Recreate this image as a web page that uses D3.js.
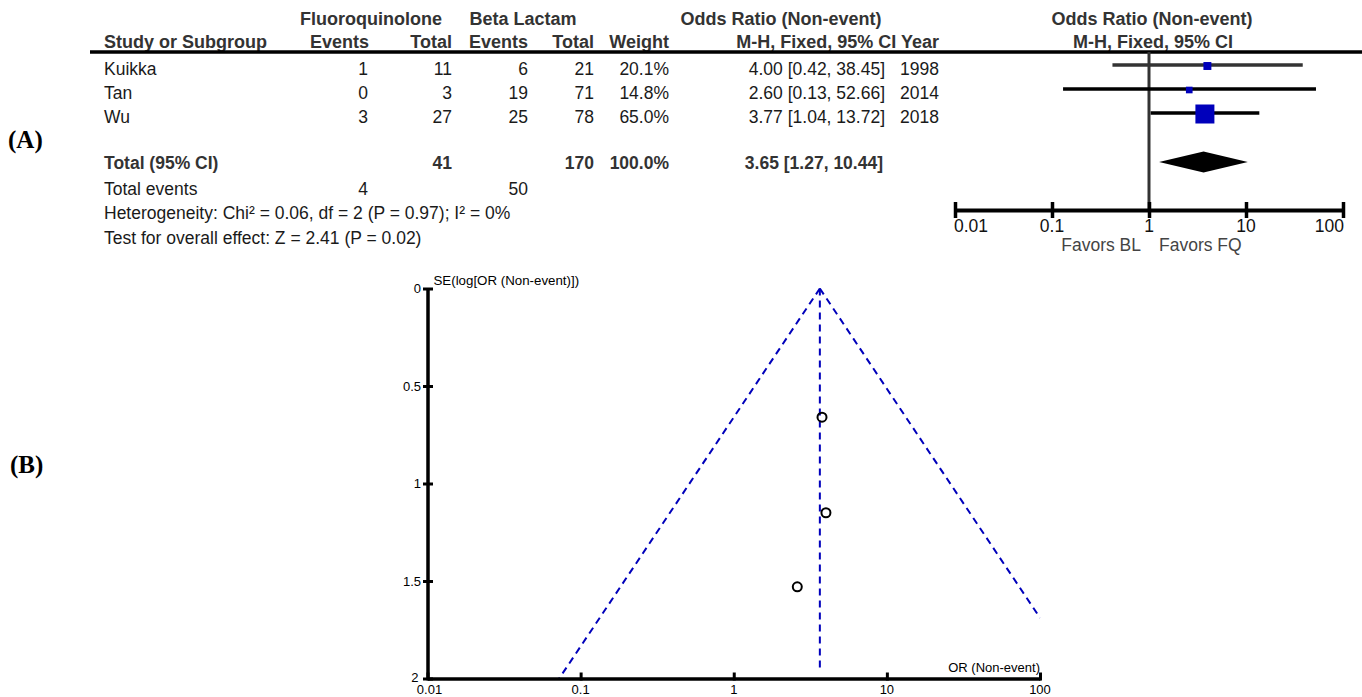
<!DOCTYPE html>
<html>
<head>
<meta charset="utf-8">
<script src="https://cdn.jsdelivr.net/npm/d3@7/dist/d3.min.js"></script>
<style>
  html, body { margin: 0; padding: 0; background: #fff; }
  svg { display: block; }
</style>
</head>
<body>
<svg id="chart" width="1362" height="697"></svg>
<script>
// ---------- DATA ----------
const studies   = ["Kuikka", "Tan", "Wu"];
const fqEvents  = [1, 0, 3];
const fqTotal   = [11, 3, 27];
const blEvents  = [6, 19, 25];
const blTotal   = [21, 71, 78];
const weights   = [20.1, 14.8, 65.0];
const orValues  = [4.00, 2.60, 3.77];
const ciLow     = [0.42, 0.13, 1.04];
const ciHigh    = [38.45, 52.66, 13.72];
const years     = [1998, 2014, 2018];
const seValues  = [1.15, 1.53, 0.66];

const totalFqTotal = 41, totalBlTotal = 170;
const totalFqEvents = 4, totalBlEvents = 50;
const pooledOR = 3.65, pooledLow = 1.27, pooledHigh = 10.44;
const totalWeight = "100.0%";
const heterogeneityText = "Heterogeneity: Chi\u00B2 = 0.06, df = 2 (P = 0.97); I\u00B2 = 0%";
const overallText = "Test for overall effect: Z = 2.41 (P = 0.02)";

const forestTicks = [0.01, 0.1, 1, 10, 100];
const forestTickLabels = ["0.01", "0.1", "1", "10", "100"];
const funnelXTicks = [0.01, 0.1, 1, 10, 100];
const funnelXTickLabels = ["0.01", "0.1", "1", "10", "100"];
const funnelYTicks = [0, 0.5, 1, 1.5, 2];
const funnelYTickLabels = ["0", "0.5", "1", "1.5", "2"];

// ---------- SETUP ----------
const svg = d3.select("#chart");
const SANS = "'Liberation Sans', Arial, sans-serif";
const SERIF = "'Liberation Serif', 'Times New Roman', serif";
const BLUE = "#0000bb";

function txt(g, x, y, s, opt = {}) {
  return g.append("text")
    .attr("x", x).attr("y", y)
    .attr("text-anchor", opt.anchor || "start")
    .attr("font-family", opt.family || SANS)
    .attr("font-size", opt.size || 17.5)
    .attr("font-weight", opt.bold ? "bold" : "normal")
    .attr("fill", opt.fill || "#1a1a1a")
    .text(s);
}

// Panel labels
txt(svg, 8, 148, "(A)", {family: SERIF, size: 25, bold: true, fill: "#000"});
txt(svg, 10, 473, "(B)", {family: SERIF, size: 25, bold: true, fill: "#000"});

// ---------- FOREST TABLE ----------
const tbl = svg.append("g");
const H = {bold: true, fill: "#333", size: 18};
txt(tbl, 371, 25, "Fluoroquinolone", {...H, anchor: "middle"});
txt(tbl, 523, 25, "Beta Lactam", {...H, anchor: "middle"});
txt(tbl, 781, 25, "Odds Ratio (Non-event)", {...H, anchor: "middle"});
txt(tbl, 1152, 25, "Odds Ratio (Non-event)", {...H, anchor: "middle"});

txt(tbl, 104, 48, "Study or Subgroup", H);
txt(tbl, 369, 48, "Events", {...H, anchor: "end"});
txt(tbl, 452, 48, "Total", {...H, anchor: "end"});
txt(tbl, 528, 48, "Events", {...H, anchor: "end"});
txt(tbl, 594, 48, "Total", {...H, anchor: "end"});
txt(tbl, 669, 48, "Weight", {...H, anchor: "end"});
txt(tbl, 939, 48, "M-H, Fixed, 95% CI Year", {...H, anchor: "end"});
txt(tbl, 1153, 48, "M-H, Fixed, 95% CI", {...H, anchor: "middle"});

tbl.append("line").attr("x1", 90).attr("x2", 1362).attr("y1", 52).attr("y2", 52)
  .attr("stroke", "#000").attr("stroke-width", 3.5);

const rowBase = d3.scalePoint().domain(studies).range([75, 123]);
const fmt2 = d3.format(".2f");

studies.forEach((s, i) => {
  const y = rowBase(s);
  txt(tbl, 104, y, s);
  txt(tbl, 368, y, fqEvents[i], {anchor: "end"});
  txt(tbl, 452, y, fqTotal[i], {anchor: "end"});
  txt(tbl, 528, y, blEvents[i], {anchor: "end"});
  txt(tbl, 594, y, blTotal[i], {anchor: "end"});
  txt(tbl, 669, y, d3.format(".1f")(weights[i]) + "%", {anchor: "end"});
  txt(tbl, 885, y, `${fmt2(orValues[i])} [${fmt2(ciLow[i])}, ${fmt2(ciHigh[i])}]`, {anchor: "end"});
  txt(tbl, 939, y, years[i], {anchor: "end"});
});

// Total row
const TB = {bold: true, fill: "#333", size: 17.5};
txt(tbl, 104, 169, "Total (95% CI)", TB);
txt(tbl, 452, 169, totalFqTotal, {...TB, anchor: "end"});
txt(tbl, 594, 169, totalBlTotal, {...TB, anchor: "end"});
txt(tbl, 669, 169, totalWeight, {...TB, anchor: "end"});
txt(tbl, 883, 169, `${fmt2(pooledOR)} [${fmt2(pooledLow)}, ${fmt2(pooledHigh)}]`, {...TB, anchor: "end"});

txt(tbl, 104, 195, "Total events");
txt(tbl, 368, 195, totalFqEvents, {anchor: "end"});
txt(tbl, 528, 195, totalBlEvents, {anchor: "end"});
txt(tbl, 104, 219, heterogeneityText);
txt(tbl, 104, 244, overallText);

// ---------- FOREST PLOT ----------
const fx = d3.scaleLog().domain([0.01, 100]).range([955, 1343]);
const sq = d3.scaleLinear().domain([0, 65]).range([3, 19]);
const fg = svg.append("g");

// line of no effect
fg.append("line").attr("x1", fx(1)).attr("x2", fx(1)).attr("y1", 52).attr("y2", 210)
  .attr("stroke", "#333").attr("stroke-width", 3);

studies.forEach((s, i) => {
  const y = rowBase(s) - 10;
  fg.append("line").attr("x1", fx(ciLow[i])).attr("x2", fx(ciHigh[i]))
    .attr("y1", y).attr("y2", y).attr("stroke", i === 0 ? "#333" : "#000").attr("stroke-width", 3.3);
  const w = sq(weights[i]);
  fg.append("rect").attr("x", fx(orValues[i]) - w / 2).attr("y", y + 1 - w / 2)
    .attr("width", w).attr("height", w).attr("fill", BLUE);
});

// diamond
const dy = 162;
fg.append("path")
  .attr("d", `M${fx(pooledLow)},${dy} L${fx(pooledOR)},${dy - 10.5} L${fx(pooledHigh)},${dy} L${fx(pooledOR)},${dy + 10.5} Z`)
  .attr("fill", "#000");

// forest axis
const fAxis = d3.axisBottom(fx).tickValues(forestTicks).tickSize(0).tickFormat("");
const fAxisG = fg.append("g").attr("transform", "translate(0,210)").call(fAxis);
fAxisG.select(".domain").attr("stroke", "#000").attr("stroke-width", 4);
fAxisG.selectAll(".tick line").remove();
fAxisG.selectAll(".tick").append("line").attr("y1", -8).attr("y2", 8)
  .attr("stroke", "#000").attr("stroke-width", 3.5);
forestTicks.forEach((t, i) => {
  const anchor = i === 0 ? "start" : (i === forestTicks.length - 1 ? "end" : "middle");
  const dx = i === 0 ? -1 : (i === forestTicks.length - 1 ? 1 : 0);
  txt(fg, fx(t) + dx, 232, forestTickLabels[i], {anchor, fill: "#111"});
});
txt(fg, fx(1) - 8, 251, "Favors BL", {anchor: "end", fill: "#444"});
txt(fg, fx(1) + 10, 251, "Favors FQ", {anchor: "start", fill: "#444"});

// ---------- FUNNEL PLOT ----------
const ux = d3.scaleLog().domain([0.01, 100]).range([427.5, 1040]);
const uy = d3.scaleLinear().domain([0, 2]).range([288.5, 678.5]);
const ug = svg.append("g");

// funnel lines
const lnP = Math.log(pooledOR);
const seMax = 2;
const seRight = (Math.log(100) - lnP) / 1.96;
const dash = "7,5";
ug.append("line").attr("x1", ux(pooledOR)).attr("y1", uy(0))
  .attr("x2", ux(Math.exp(lnP - 1.96 * seMax))).attr("y2", uy(seMax))
  .attr("stroke", BLUE).attr("stroke-width", 2).attr("stroke-dasharray", dash);
ug.append("line").attr("x1", ux(pooledOR)).attr("y1", uy(0))
  .attr("x2", ux(100)).attr("y2", uy(seRight))
  .attr("stroke", BLUE).attr("stroke-width", 2).attr("stroke-dasharray", dash);
ug.append("line").attr("x1", ux(pooledOR)).attr("y1", uy(0))
  .attr("x2", ux(pooledOR)).attr("y2", uy(1.95))
  .attr("stroke", BLUE).attr("stroke-width", 2).attr("stroke-dasharray", dash);

// axes
const yAx = d3.axisLeft(uy).tickValues(funnelYTicks).tickSize(0).tickFormat("");
const yAxG = ug.append("g").attr("transform", `translate(${ux(0.01)},0)`).call(yAx);
yAxG.select(".domain").attr("stroke", "#000").attr("stroke-width", 3.5);
yAxG.selectAll(".tick line").remove();
yAxG.selectAll(".tick").append("line").attr("x1", -4.5).attr("x2", 5.5)
  .attr("stroke", "#000").attr("stroke-width", 3);
funnelYTicks.forEach((t, i) => {
  const last = i === funnelYTicks.length - 1;
  txt(ug, ux(0.01) - (last ? 9 : 6.5), uy(t) + (last ? 3 : 4.5), funnelYTickLabels[i],
      {anchor: "end", size: 13, fill: "#000"});
});

const xAx = d3.axisBottom(ux).tickValues(funnelXTicks).tickSize(0).tickFormat("");
const xAxG = ug.append("g").attr("transform", `translate(0,${uy(2)})`).call(xAx);
xAxG.select(".domain").attr("stroke", "#000").attr("stroke-width", 3.5);
xAxG.selectAll(".tick line").remove();
xAxG.selectAll(".tick").append("line").attr("y1", -6).attr("y2", 2)
  .attr("stroke", "#000").attr("stroke-width", 3);
funnelXTicks.forEach((t, i) => {
  txt(ug, ux(t) + (i === 0 ? 2 : 0), 694, funnelXTickLabels[i], {anchor: "middle", size: 13, fill: "#000"});
});

txt(ug, ux(0.01) + 6, 285, "SE(log[OR (Non-event)])", {size: 13.3, fill: "#000"});
txt(ug, ux(100), 672, "OR (Non-event)", {anchor: "end", size: 13, fill: "#000"});

// points
studies.forEach((s, i) => {
  ug.append("circle").attr("cx", ux(orValues[i])).attr("cy", uy(seValues[i])).attr("r", 4.5)
    .attr("fill", "none").attr("stroke", "#000").attr("stroke-width", 2);
});
</script>
</body>
</html>
